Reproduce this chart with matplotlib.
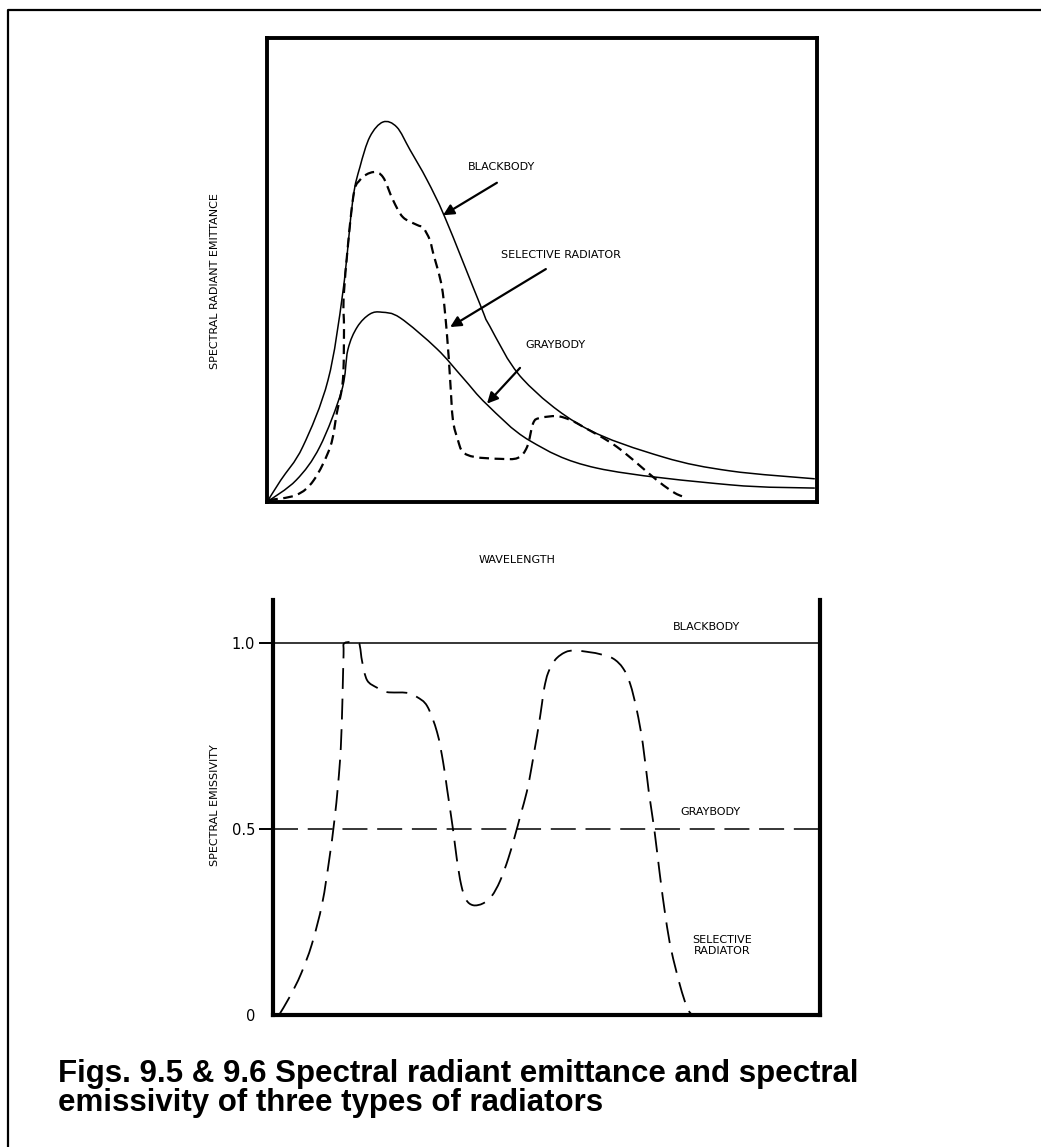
"""
Spectral radiant emittance (top) and spectral emissivity (bottom)
for a blackbody, a graybody and a selective radiator.
"""

import numpy as np
import matplotlib.pyplot as plt
from matplotlib.lines import Line2D
from matplotlib.path import Path
from matplotlib.patches import PathPatch

plt.rcParams['lines.scale_dashes'] = False
plt.rcParams['font.family'] = ['DejaVu Sans']

W, H = 1041, 1147

# wavelength in arbitrary units (0-100 across each panel)
# --- top panel: spectral radiant emittance (arbitrary units 0-100)
bb_wl = [0.0, 2.5, 6.5, 11.1, 13.8, 15.6, 16.9, 18.7, 21.1, 23.6, 26.0,
         29.1, 32.4, 38.7, 40.5, 46.5, 57.5, 72.0, 84.2, 99.6]
bb_em = [0.0, 4.7, 11.9, 26.3, 45.3, 65.1, 72.2, 78.7, 81.9, 80.8, 75.9,
         69.4, 61.2, 42.7, 37.9, 26.5, 16.2, 9.7, 6.7, 5.0]

gb_wl = [0.0, 5.3, 9.6, 13.6, 14.7, 16.4, 18.7, 20.9, 24.2, 30.9, 35.6,
         40.0, 47.8, 60.0, 84.2, 99.6]
gb_em = [0.0, 4.7, 11.9, 24.1, 32.8, 37.7, 40.5, 40.9, 39.7, 33.0, 26.8,
         21.0, 13.2, 7.3, 3.7, 3.0]

sr_wl = [0.2, 5.3, 8.5, 11.5, 12.7, 13.8, 14.0, 14.0, 15.6, 16.9, 19.3,
         21.1, 22.9, 24.7, 27.3, 28.4, 29.6, 30.2, 31.8, 32.7, 33.3, 33.8,
         34.7, 35.6, 37.8, 42.4, 45.6, 47.3, 48.4, 49.6, 52.7, 55.1, 57.5,
         63.6, 70.9, 74.2, 76.4]
sr_em = [0.4, 1.5, 4.7, 11.9, 19.2, 26.3, 37.1, 45.3, 65.1, 69.4, 71.1,
         70.0, 65.1, 61.4, 59.7, 59.1, 56.5, 53.7, 46.3, 36.4, 26.3, 17.7,
         13.4, 10.8, 9.7, 9.3, 9.5, 11.9, 17.0, 18.1, 18.5, 17.7, 16.2,
         11.9, 4.7, 1.9, 0.9]

# --- bottom panel: spectral emissivity
eps_black = 1.0
eps_gray = 0.5
sel_wl = [1.1, 3.1, 5.1, 7.1, 9.0, 10.3, 11.2, 11.9, 12.4, 12.7, 12.9, 13.1,
          15.5, 15.9, 16.3, 17.2, 19.0, 20.8, 24.5, 26.3, 28.2, 30.0, 31.1,
          31.8, 32.9, 33.6, 34.4, 35.3, 36.6, 38.4, 40.0, 41.5, 43.0, 44.2,
          45.3, 46.4, 47.2, 47.9, 48.6, 49.2, 49.6, 50.3, 51.6, 53.4, 55.2,
          58.0, 59.8, 62.2, 64.0, 65.3, 66.5, 67.6, 68.7, 69.7, 70.7, 71.8,
          72.8, 74.4, 75.7, 76.6]
sel_eps = [0.0, 0.05, 0.11, 0.19, 0.30, 0.42, 0.52, 0.62, 0.72, 0.85, 0.97,
           1.0, 1.0, 0.99, 0.95, 0.90, 0.88, 0.868, 0.866, 0.855, 0.83, 0.76,
           0.68, 0.61, 0.50, 0.42, 0.35, 0.31, 0.295, 0.30, 0.32, 0.36, 0.42,
           0.48, 0.54, 0.60, 0.66, 0.72, 0.78, 0.84, 0.88, 0.92, 0.955, 0.975,
           0.98, 0.975, 0.97, 0.958, 0.932, 0.89, 0.82, 0.73, 0.60, 0.50,
           0.38, 0.26, 0.175, 0.08, 0.02, 0.0]

eps_ticks = [0, 0.5, 1.0]
eps_labels = ['0', '0.5', '1.0']


def fig_box(x0, y0, x1, y1):
    # pixel box (top-left origin) -> figure fraction rect
    return [x0 / W, 1 - y1 / H, (x1 - x0) / W, (y1 - y0) / H]


def fpos(x, y):
    return x / W, 1 - y / H


def smooth_curve(ax, x, y, **kwargs):
    # draw a smooth (Catmull-Rom -> Bezier) curve through the points
    p = np.column_stack([x, y]).astype(float)
    ext = np.vstack([p[0], p, p[-1]])
    verts = [p[0]]
    codes = [Path.MOVETO]
    for i in range(len(p) - 1):
        p0, p1, p2, p3 = ext[i], ext[i + 1], ext[i + 2], ext[i + 3]
        verts += [p1 + (p2 - p0) / 6, p2 - (p3 - p1) / 6, p2]
        codes += [Path.CURVE4] * 3
    patch = PathPatch(Path(verts, codes), fill=False, transform=ax.transData,
                      capstyle='butt', joinstyle='round', **kwargs)
    ax.add_patch(patch)
    return patch


fig = plt.figure(figsize=(W / 100, H / 100), dpi=100)

# outer frame (only top and left edges visible)
fig.add_artist(Line2D([8 / W, 8 / W, 1.0], [0.0, 1 - 10 / H, 1 - 10 / H],
                      transform=fig.transFigure, color='black', lw=1.6))

# ---------------- top panel ----------------
ax1 = fig.add_axes(fig_box(267, 38, 817, 502))
smooth_curve(ax1, bb_wl, bb_em, edgecolor='black', lw=1.1)
smooth_curve(ax1, gb_wl, gb_em, edgecolor='black', lw=1.1)
smooth_curve(ax1, sr_wl, sr_em, edgecolor='black', lw=1.6,
             linestyle=(0, (7, 4)))
ax1.set_xlim(0, 100)
ax1.set_ylim(0, 100)
ax1.set_xticks([])
ax1.set_yticks([])
for sp in ax1.spines.values():
    sp.set_linewidth(2.8)

arrow = dict(arrowstyle='-|>', color='black', lw=1.6, mutation_scale=16,
             shrinkA=0, shrinkB=0)
ax1.annotate('', xy=(32.0, 61.8), xytext=(41.8, 68.8), arrowprops=arrow)
ax1.annotate('', xy=(33.3, 37.7), xytext=(50.7, 50.2), arrowprops=arrow)
ax1.annotate('', xy=(40.0, 21.2), xytext=(46.0, 28.9), arrowprops=arrow)
ax1.text(42.7, 72.2, 'BLACKBODY', fontsize=8, ha='center', va='center')
ax1.text(53.5, 53.2, 'SELECTIVE RADIATOR', fontsize=8, ha='center',
         va='center')
ax1.text(52.5, 33.8, 'GRAYBODY', fontsize=8, ha='center', va='center')

fig.text(*fpos(215, 281), 'SPECTRAL RADIANT EMITTANCE', rotation=90,
         fontsize=8, ha='center', va='center')
fig.text(*fpos(517, 560), 'WAVELENGTH', fontsize=8, ha='center',
         va='center')

# ---------------- bottom panel ----------------
ax2 = fig.add_axes(fig_box(273, 600, 820, 1015))
ax2.axhline(eps_black, color='black', lw=1.1)
ax2.axhline(eps_gray, color='black', lw=1.1, dashes=(18, 7))
smooth_curve(ax2, sel_wl, sel_eps, edgecolor='black', lw=1.3,
             linestyle=(0, (15, 7)))
ax2.set_xlim(0, 100)
ax2.set_ylim(0, (1015 - 600) / 372)
ax2.set_xticks([])
ax2.set_yticks(eps_ticks)
ax2.set_yticklabels(eps_labels, fontsize=10.5)
ax2.tick_params(axis='y', direction='out', length=10, width=1.4, pad=3)
ax2.yaxis.get_major_ticks()[0].tick1line.set_visible(False)
ax2.spines['top'].set_visible(False)
for s in ('left', 'right', 'bottom'):
    ax2.spines[s].set_linewidth(3.0)

ax2.text(79.3, 1.043, 'BLACKBODY', fontsize=8, ha='center', va='center')
ax2.text(79.9, 0.546, 'GRAYBODY', fontsize=8, ha='center', va='center')
ax2.text(82.1, 0.187, 'SELECTIVE\nRADIATOR', fontsize=8, ha='center',
         va='center', multialignment='center', linespacing=1.1)

fig.text(*fpos(215, 805), 'SPECTRAL EMISSIVITY', rotation=90, fontsize=8,
         ha='center', va='center')

# ---------------- caption ----------------
title_font = dict(family=['Liberation Sans', 'DejaVu Sans'],
                  fontsize=22.5, fontweight='bold')
fig.text(*fpos(58, 1082),
         'Figs. 9.5 & 9.6 Spectral radiant emittance and spectral',
         ha='left', va='baseline', **title_font)
fig.text(*fpos(58, 1111), 'emissivity of three types of radiators',
         ha='left', va='baseline', **title_font)

fig.savefig('out.png', dpi=100, facecolor='white')
